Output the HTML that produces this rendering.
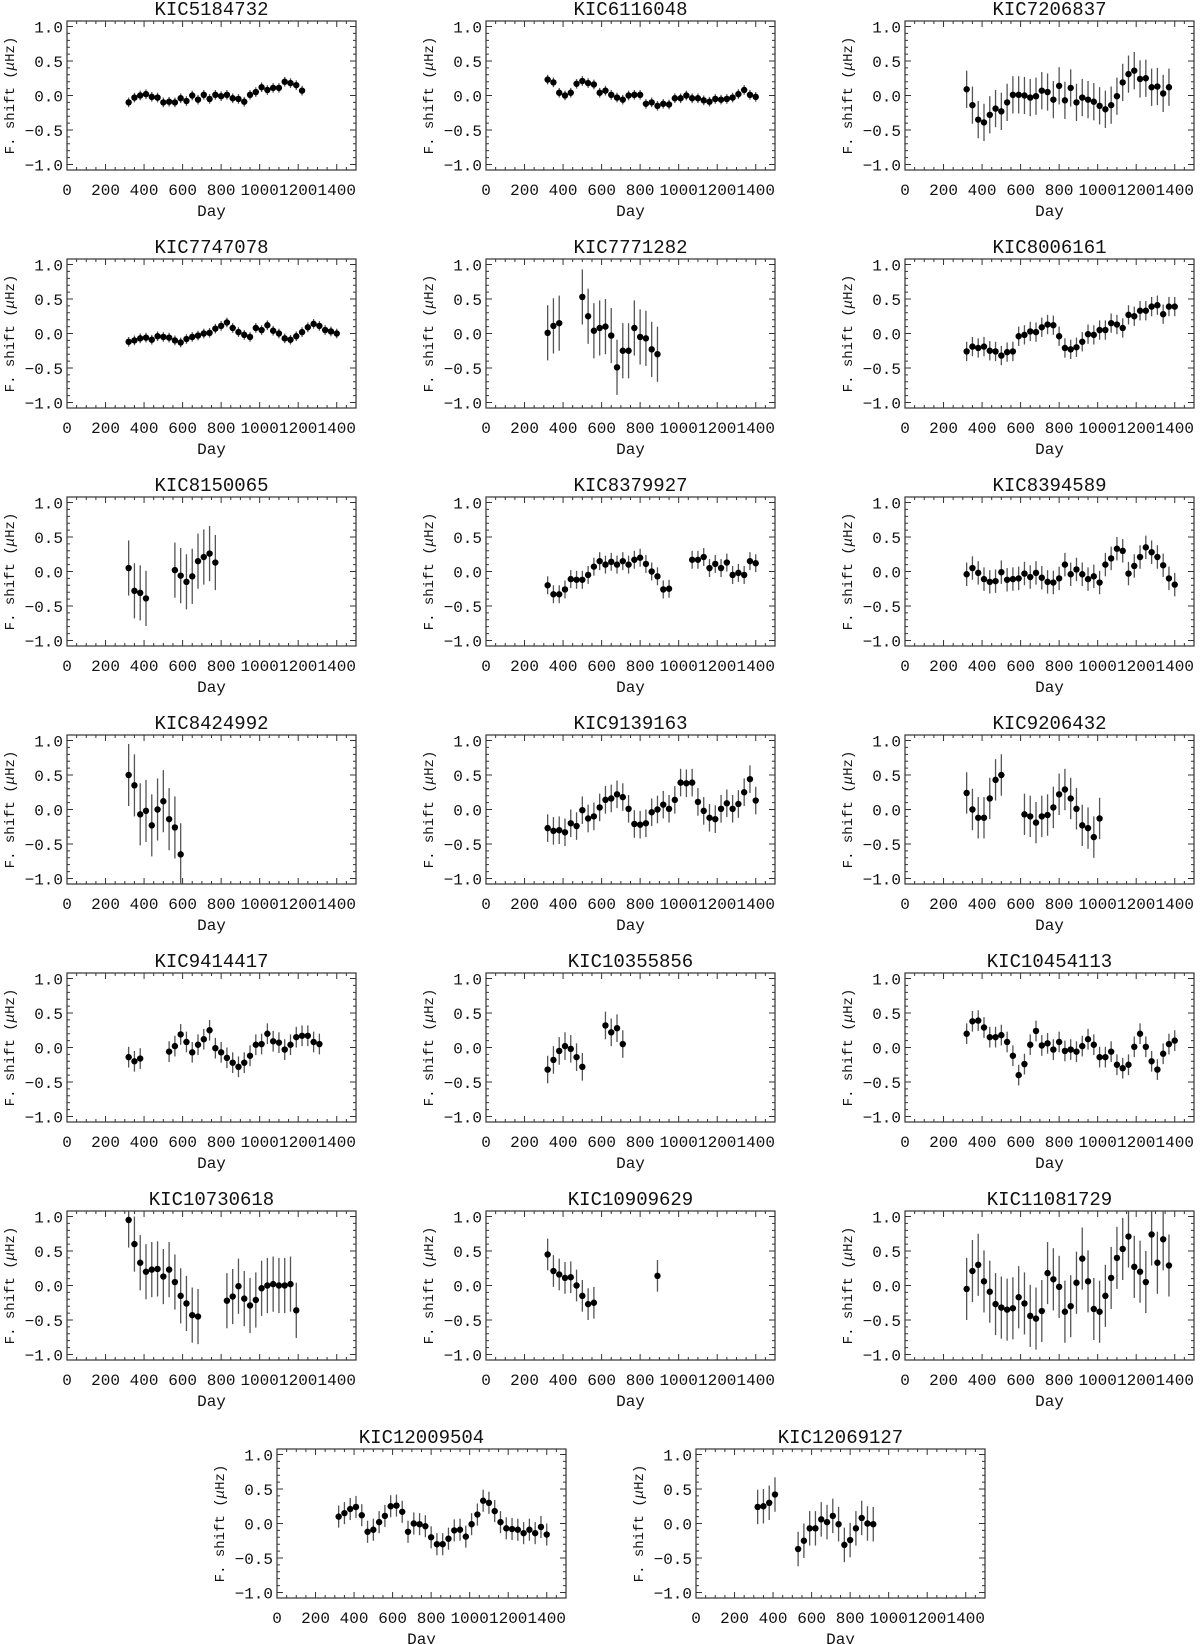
<!DOCTYPE html>
<html><head><meta charset="utf-8"><style>
html,body{margin:0;padding:0;background:#fff;}
svg{display:block;}
text{font-family:"Liberation Mono",monospace;fill:#111;}
</style></head>
<body>
<svg id="fig" width="1200" height="1644" viewBox="0 0 1200 1644" xmlns="http://www.w3.org/2000/svg"></svg>
<script>
const DAYS = [320,350,380,410,440,470,500,530,560,590,620,650,680,710,740,770,800,830,860,890,920,950,980,1010,1040,1070,1100,1130,1160,1190,1220,1250,1280,1310,1340,1370,1400];
const X_TICKS = [0,200,400,600,800,1000,1200,1400];
const Y_TICKS = [-1.0,-0.5,0.0,0.5,1.0];
const Y_TICK_LABELS = ["\u22121.0","\u22120.5","0.0","0.5","1.0"];
const N = null;
const NAMES = ["KIC5184732","KIC6116048","KIC7206837","KIC7747078","KIC7771282","KIC8006161","KIC8150065","KIC8379927","KIC8394589","KIC8424992","KIC9139163","KIC9206432","KIC9414417","KIC10355856","KIC10454113","KIC10730618","KIC10909629","KIC11081729","KIC12009504","KIC12069127"];
const ERRS = [0.07,0.07,0.27,0.07,0.4,0.14,0.4,0.13,0.17,0.45,0.2,0.3,0.15,0.2,0.15,0.4,0.23,0.45,0.16,0.25];
const V0 = [-0.1,-0.03,0.0,0.02,-0.02,-0.03,-0.1,-0.09,-0.1,-0.04,-0.08,0.0,-0.06,0.01,-0.05,0.01,-0.01,0.01,-0.04,-0.05,-0.09,0.01,0.05,0.12,0.08,0.11,0.11,0.2,0.18,0.15,0.07];
const V1 = [0.23,0.19,0.04,0.0,0.04,0.17,0.21,0.18,0.16,0.04,0.07,0.01,-0.03,-0.06,0.0,0.01,0.01,-0.12,-0.1,-0.15,-0.12,-0.13,-0.04,-0.04,0.0,-0.04,-0.04,-0.07,-0.09,-0.05,-0.06,-0.05,-0.03,0.02,0.08,0.01,-0.02];
const V2 = [0.09,-0.14,-0.35,-0.39,-0.28,-0.19,-0.23,-0.1,0.01,0.01,0.0,-0.03,-0.01,0.07,0.05,-0.06,0.14,-0.07,0.11,-0.1,-0.03,-0.06,-0.09,-0.15,-0.2,-0.14,-0.01,0.19,0.31,0.36,0.24,0.25,0.12,0.13,0.03,0.12];
const V3 = [-0.12,-0.1,-0.07,-0.06,-0.09,-0.04,-0.05,-0.06,-0.1,-0.13,-0.08,-0.05,-0.03,0.0,0.01,0.07,0.11,0.16,0.08,0.02,-0.02,-0.05,0.08,0.05,0.12,0.04,0.0,-0.07,-0.09,-0.04,0.02,0.09,0.14,0.11,0.05,0.03,0.0];
const V4 = [0.01,0.11,0.15,N,N,N,0.53,0.25,0.04,0.08,0.1,-0.03,-0.49,-0.25,-0.25,0.08,-0.05,-0.07,-0.23,-0.3];
const V5 = [-0.26,-0.19,-0.21,-0.19,-0.25,-0.26,-0.32,-0.27,-0.26,-0.04,-0.02,0.03,0.02,0.09,0.13,0.12,-0.04,-0.21,-0.23,-0.2,-0.12,-0.01,-0.02,0.05,0.05,0.15,0.13,0.08,0.27,0.25,0.33,0.33,0.39,0.41,0.28,0.39,0.39];
const V6 = [0.05,-0.28,-0.31,-0.39,N,N,N,N,0.02,-0.06,-0.15,-0.07,0.15,0.21,0.26,0.13];
const V7 = [-0.2,-0.33,-0.33,-0.26,-0.11,-0.12,-0.12,-0.05,0.07,0.15,0.1,0.14,0.1,0.15,0.1,0.17,0.2,0.11,0.0,-0.07,-0.26,-0.25,N,N,N,0.17,0.17,0.21,0.05,0.11,0.05,0.13,-0.05,-0.02,-0.05,0.15,0.12];
const V8 = [-0.04,0.05,-0.02,-0.11,-0.15,-0.14,-0.01,-0.12,-0.11,-0.1,-0.03,-0.08,-0.02,-0.09,-0.15,-0.16,-0.1,0.1,-0.04,0.03,-0.04,-0.11,-0.07,-0.16,0.1,0.19,0.33,0.3,-0.03,0.08,0.21,0.35,0.28,0.21,0.09,-0.1,-0.19];
const V9 = [0.5,0.35,-0.07,-0.02,-0.23,0.0,0.12,-0.14,-0.26,-0.65];
const V10 = [-0.27,-0.31,-0.3,-0.33,-0.2,-0.24,-0.01,-0.13,-0.1,0.03,0.14,0.16,0.22,0.18,0.01,-0.21,-0.22,-0.2,-0.04,0.0,0.07,0.01,0.14,0.39,0.38,0.39,0.11,-0.02,-0.12,-0.14,0.01,0.09,0.01,0.08,0.25,0.44,0.13];
const V11 = [0.24,0.0,-0.12,-0.12,0.16,0.43,0.5,N,N,N,-0.07,-0.1,-0.19,-0.1,-0.08,0.03,0.22,0.29,0.16,0.01,-0.23,-0.27,-0.4,-0.13];
const V12 = [-0.14,-0.2,-0.16,N,N,N,N,-0.06,0.02,0.19,0.08,-0.07,0.04,0.12,0.25,-0.01,-0.07,-0.15,-0.22,-0.28,-0.22,-0.12,0.04,0.05,0.2,0.09,0.07,-0.03,0.04,0.15,0.17,0.17,0.08,0.05];
const V13 = [-0.32,-0.18,-0.05,0.02,-0.02,-0.14,-0.28,N,N,N,0.32,0.22,0.28,0.05];
const V14 = [0.2,0.38,0.39,0.29,0.15,0.15,0.18,0.08,-0.12,-0.4,-0.24,0.04,0.24,0.03,0.06,-0.03,0.08,-0.05,-0.03,-0.06,0.02,0.12,0.04,-0.14,-0.14,-0.06,-0.25,-0.3,-0.25,0.01,0.2,0.01,-0.2,-0.32,-0.09,0.05,0.1];
const V15 = [0.95,0.6,0.33,0.2,0.23,0.24,0.13,0.23,0.05,-0.15,-0.26,-0.43,-0.45,N,N,N,N,-0.22,-0.16,-0.01,-0.19,-0.29,-0.21,-0.04,0.0,0.02,0.0,0.0,0.02,-0.36];
const V16 = [0.45,0.21,0.16,0.11,0.12,0.0,-0.15,-0.27,-0.25,N,N,N,N,N,N,N,N,N,N,0.14];
const V17 = [-0.05,0.21,0.3,0.06,-0.09,-0.27,-0.32,-0.35,-0.33,-0.17,-0.26,-0.44,-0.48,-0.37,0.18,0.09,-0.02,-0.38,-0.3,0.04,0.39,0.06,-0.34,-0.38,-0.15,0.11,0.4,0.53,0.71,0.27,0.2,0.05,0.74,0.33,0.67,0.29];
const V18 = [0.1,0.15,0.21,0.24,0.12,-0.12,-0.09,0.02,0.11,0.25,0.26,0.17,-0.12,0.0,-0.01,-0.04,-0.2,-0.3,-0.3,-0.22,-0.1,-0.09,-0.19,-0.01,0.13,0.33,0.3,0.18,0.02,-0.07,-0.08,-0.09,-0.14,-0.09,-0.14,-0.05,-0.16];
const V19 = [0.24,0.25,0.3,0.42,N,N,N,-0.37,-0.25,-0.07,-0.07,0.06,0.02,0.11,-0.01,-0.31,-0.24,-0.07,0.08,0.0,-0.01];
const VALUES = [V0,V1,V2,V3,V4,V5,V6,V7,V8,V9,V10,V11,V12,V13,V14,V15,V16,V17,V18,V19];

const NS = "http://www.w3.org/2000/svg";
const svg = document.getElementById('fig');
const W = 289, H = 149, XMAX = 1500, YMAX = 1.08, YMIN = -1.08;
function mk(tag, attrs, parent){
  const e = document.createElementNS(NS, tag);
  for (const k in attrs) e.setAttribute(k, attrs[k]);
  (parent||svg).appendChild(e);
  return e;
}
function panelPos(i){
  if (i < 18) return [67 + 419*(i%3), 21 + 238*Math.floor(i/3)];
  return [277 + 419*(i-18), 21 + 238*6];
}
for (let p = 0; p < NAMES.length; p++){
  const [L, T] = panelPos(p);
  const xs = d => L + d / XMAX * W;
  const ys = v => T + (YMAX - v) / (YMAX - YMIN) * H;
  const g = mk('g', {});
  
  
  const cp = mk('clipPath', {id: 'clip' + p}, g);
  mk('rect', {x: L, y: T, width: W, height: H}, cp);
  const title = mk('text', {x: L + W/2, y: T - 6, 'text-anchor': 'middle', 'font-size': 19}, g);
  title.textContent = NAMES[p];
  
  
  let tk = '';
  for (let d = 0; d <= XMAX; d += 50){
    const len = (d % 200 === 0) ? 6 : 3;
    const x = xs(d);
    tk += `M${x} ${T+H}v${-len}M${x} ${T}v${len}`;
  }
  for (let k = -10; k <= 10; k++){
    const v = k/10, len = (k % 5 === 0) ? 6 : 3, y = ys(v);
    tk += `M${L} ${y}h${len}M${L+W} ${y}h${-len}`;
  }
  const ticks = mk('path', {d: tk, stroke: '#333', 'stroke-width': 1, fill: 'none'}, g);
  
  
  const box = mk('rect', {x: L, y: T, width: W, height: H, fill: 'none', stroke: '#333', 'stroke-width': 1.2}, g);
  
  
  X_TICKS.forEach(d => {
    const t = mk('text', {x: xs(d), y: T + H + 25, 'text-anchor': 'middle', 'font-size': 16}, g);
    t.textContent = String(d);
    
    
  });
  Y_TICKS.forEach((v, j) => {
    const t = mk('text', {x: L - 4, y: ys(v) + 6, 'text-anchor': 'end', 'font-size': 16}, g);
    t.textContent = Y_TICK_LABELS[j];
    
    
  });
  const xt = mk('text', {x: L + W/2, y: T + H + 46, 'text-anchor': 'middle', 'font-size': 16}, g);
  xt.textContent = 'Day';
  
  
  const yc = T + H/2;
  const yt = mk('text', {x: L - 53, y: yc, 'text-anchor': 'middle', 'font-size': 14, transform: `rotate(-90 ${L-53} ${yc})`}, g);
  yt.innerHTML = 'F. shift (<tspan font-style="italic">\u03bc</tspan>Hz)';
  
  
  const series = mk('g', {'clip-path': `url(#clip${p})`}, g);
  
  
  const vals = VALUES[p], err = ERRS[p];
  vals.forEach((v, i) => {
    if (v === null) return;
    const x = xs(DAYS[i]);
    const bar = mk('line', {x1: x, x2: x, y1: ys(v + err), y2: ys(v - err), stroke: '#555', 'stroke-width': 1.3}, series);
    
    
    const pt = mk('circle', {cx: x, cy: ys(v), r: 3.2, fill: '#000'}, series);
    
    
  });
}
</script>
</body></html>
